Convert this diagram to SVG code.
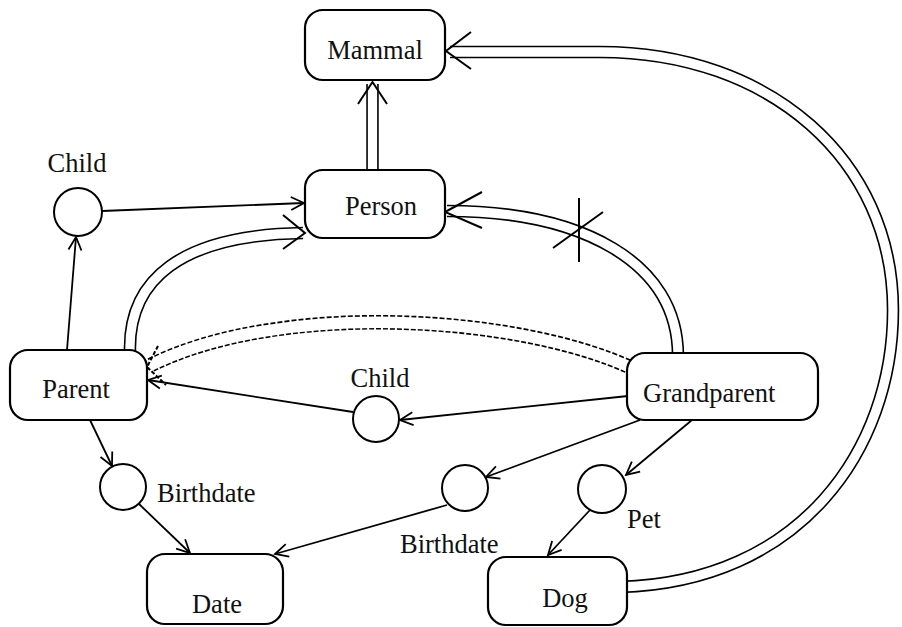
<svg xmlns="http://www.w3.org/2000/svg" width="902" height="627" viewBox="0 0 902 627">
<defs>
<style>
.box{fill:#fff;stroke:#000;stroke-width:2.2}
.circ{fill:#fff;stroke:#000;stroke-width:2}
.t{font-family:"Liberation Serif","Times New Roman","DejaVu Serif",serif;font-size:26.5px;fill:#111}
.ln{fill:none;stroke:#000;stroke-width:1.8}
.db{fill:none;stroke:#000;stroke-width:12.5}
.dw{fill:none;stroke:#fff;stroke-width:9.3}
.ddb{fill:none;stroke:#000;stroke-width:14.6;stroke-dasharray:5 2}
.ddw{fill:none;stroke:#fff;stroke-width:11.4}
.hd{fill:none;stroke:#000;stroke-width:2}
</style>
<marker id="ah" viewBox="-14 -8 16 16" refX="0" refY="0" markerWidth="16" markerHeight="16" markerUnits="userSpaceOnUse" orient="auto">
<path d="M-13,-6.5 L0,0 L-13,6.5" fill="none" stroke="#000" stroke-width="1.8"/>
</marker>
</defs>
<g id="connectors">
<path class="db" d="M620,587 C800,582 893,450 893,310 C893,160 770,52 600,52 L450,52"/>
<path class="dw" d="M620,587 C800,582 893,450 893,310 C893,160 770,52 600,52 L450,52"/>
<path class="hd" d="M471,32 L446,51 L471,69"/>
<path class="db" d="M372.5,175 L372.5,84"/>
<path class="dw" d="M372.5,175 L372.5,84"/>
<path class="hd" d="M358,104 L372.5,82 L387,104"/>
<path class="db" d="M130,352 C128,280 180,235 303,233"/>
<path class="dw" d="M130,352 C128,280 180,235 303,233"/>
<path class="hd" d="M283,215 L305,233 L283,249"/>
<path class="db" d="M678,356 C678,262 582,211 447,211"/>
<path class="dw" d="M678,356 C678,262 582,211 447,211"/>
<path class="hd" d="M482,192 L445,212 L482,228"/>
<path class="hd" d="M579,198 L579,262 M553,248 L603,212"/>
<path class="ddb" d="M634,369 C520,315 280,300 149,366"/>
<path class="ddw" d="M634,369 C520,315 280,300 149,366"/>
<path class="hd" d="M158,346 L147,367 L166,385" stroke-dasharray="4 2"/>
<path class="ln" marker-end="url(#ah)" d="M102,211 L304,203"/>
<path class="ln" marker-end="url(#ah)" d="M67,350 L76,237"/>
<path class="ln" marker-end="url(#ah)" d="M90,420 L112,466"/>
<path class="ln" marker-end="url(#ah)" d="M139,504 L190,553"/>
<path class="ln" marker-end="url(#ah)" d="M640,420 L486,477"/>
<path class="ln" marker-end="url(#ah)" d="M447,505 L275,554"/>
<path class="ln" marker-end="url(#ah)" d="M692,420 L626,475"/>
<path class="ln" marker-end="url(#ah)" d="M590,510 L548,555"/>
<path class="ln" marker-end="url(#ah)" d="M628,396 L400,420"/>
<path class="ln" marker-end="url(#ah)" d="M353,412 L148,380"/>
</g>
<g id="mammal"><rect class="box" x="305" y="10" width="140" height="70" rx="18"/><text class="t" x="375" y="59" text-anchor="middle">Mammal</text></g>
<g id="person"><rect class="box" x="305" y="170" width="140" height="68" rx="18"/><text class="t" x="381" y="215" text-anchor="middle">Person</text></g>
<g id="parent"><rect class="box" x="10" y="350" width="137" height="70" rx="18"/><text class="t" x="76" y="398" text-anchor="middle">Parent</text></g>
<g id="grandparent"><rect class="box" x="627" y="353" width="191" height="67" rx="18"/><text class="t" x="643" y="402">Grandparent</text></g>
<g id="date"><rect class="box" x="147" y="554" width="136" height="70" rx="18"/><text class="t" x="217" y="613" text-anchor="middle">Date</text></g>
<g id="dog"><rect class="box" x="488" y="557" width="139" height="68" rx="18"/><text class="t" x="565" y="607" text-anchor="middle">Dog</text></g>
<g id="child1"><circle class="circ" cx="78" cy="212" r="24"/><text class="t" x="77" y="172" text-anchor="middle">Child</text></g>
<g id="child2"><circle class="circ" cx="376" cy="419" r="23"/><text class="t" x="380" y="387" text-anchor="middle">Child</text></g>
<g id="birthdate1"><circle class="circ" cx="123" cy="487" r="23"/><text class="t" x="157" y="502">Birthdate</text></g>
<g id="birthdate2"><circle class="circ" cx="465" cy="488" r="23"/><text class="t" x="400" y="553">Birthdate</text></g>
<g id="pet"><circle class="circ" cx="602" cy="489" r="24"/><text class="t" x="627" y="528">Pet</text></g>
</svg>
